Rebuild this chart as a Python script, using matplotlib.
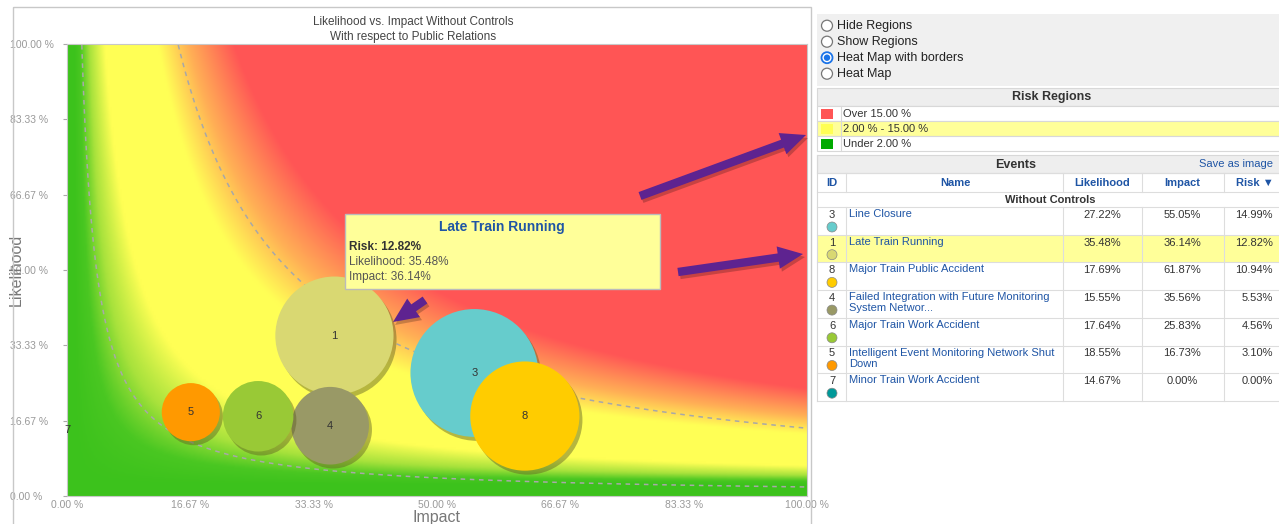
import textwrap
import numpy as np
import matplotlib
matplotlib.use("Agg")
import matplotlib.pyplot as plt
import matplotlib.transforms as mtransforms
from matplotlib.patches import Rectangle, Circle, FancyArrowPatch
from matplotlib.colors import LinearSegmentedColormap

plt.rcParams['font.family'] = ['Liberation Sans', 'DejaVu Sans']

# events, in the order of the table (risk descending)
ids = [3, 1, 8, 4, 6, 5, 7]
names = ["Line Closure", "Late Train Running", "Major Train Public Accident",
         "Failed Integration with Future Monitoring System Networ...",
         "Major Train Work Accident",
         "Intelligent Event Monitoring Network Shut Down",
         "Minor Train Work Accident"]
likelihood = [27.22, 35.48, 17.69, 15.55, 17.64, 18.55, 14.67]
impact = [55.05, 36.14, 61.87, 35.56, 25.83, 16.73, 0.00]
risk = [14.99, 12.82, 10.94, 5.53, 4.56, 3.10, 0.00]
colors = ["#66CCCC", "#D9D872", "#FFCC00", "#999966", "#99C936", "#FF9900", "#009999"]
hover = 1  # Late Train Running

# risk regions
low_limit = 2.0
high_limit = 15.0
region_labels = ["Over 15.00 %", "2.00 % - 15.00 %", "Under 2.00 %"]
region_colors = ["#FF5555", "#FFFF55", "#00AA00"]

# heat map colour stops (risk %, colour)
heat_stops = [(0.0, "#3CC21C"), (0.8, "#4AC722"), (2.0, "#A8E23C"), (4.0, "#FFFF55"),
              (11.0, "#FFFF55"), (15.0, "#FFAF55"), (21.0, "#FF5555"), (100.0, "#FF5555")]

ticks = [0, 16.67, 33.33, 50, 66.67, 83.33, 100]
tick_labels = ["0.00 %", "16.67 %", "33.33 %", "50.00 %", "66.67 %", "83.33 %", "100.00 %"]
radio_options = ["Hide Regions", "Show Regions", "Heat Map with borders", "Heat Map"]
selected_option = 2

W, H = 1279, 524
fig = plt.figure(figsize=(W / 100, H / 100), dpi=100)
ax = fig.add_axes([67 / W, 28 / H, 740 / W, 452 / H])

# heat map: risk sampled at the low corner of each cell
nx, ny = 370, 226
gx = (np.arange(nx) + 0.5) / nx * 100
gy = (np.arange(ny) + 0.5) / ny * 100
X, Y = np.meshgrid(gx, gy)
R = X * Y / 100
Rs = np.maximum(X - 1.0, 0) * np.maximum(Y - 2.6, 0) / 100
heat_cmap = LinearSegmentedColormap.from_list(
    "heat", [(v / 100, c) for v, c in heat_stops], N=4096)
ax.imshow(Rs, extent=[0, 100, 0, 100], origin='lower', cmap=heat_cmap, vmin=0, vmax=100,
          aspect='auto', interpolation='bilinear', zorder=0)
ax.contour(X, Y, R, levels=[low_limit, high_limit], colors='#A8A8A8',
           linestyles=[(0, (3, 3))], linewidths=1.1, zorder=1)

# bubbles, area ~ risk
k = 565
shadow = mtransforms.offset_copy(ax.transData, fig=fig, x=3, y=-4, units='dots')
for i in range(len(ids)):
    s = k * risk[i]
    ax.scatter(impact[i], likelihood[i], s=s, color='#5E5E22', alpha=0.45,
               transform=shadow, zorder=3 + 2 * i, edgecolors='none')
    ax.scatter(impact[i], likelihood[i], s=s, color=colors[i], zorder=4 + 2 * i,
               edgecolors='none')
    ax.text(impact[i], likelihood[i], str(ids[i]), ha='center', va='center',
            fontsize=8, color='#333333', zorder=30, clip_on=False)

ax.set_xlim(0, 100)
ax.set_ylim(0, 100)
ax.set_xticks(ticks)
ax.set_xticklabels(tick_labels)
ax.set_yticks(ticks)
ax.set_yticklabels(tick_labels)
ax.tick_params(axis='x', length=0, pad=3, labelsize=7.5, labelcolor='#999999')
ax.tick_params(axis='y', length=3, pad=38, labelsize=7.5, labelcolor='#999999',
               color='#AAAAAA')
for lab in ax.get_yticklabels():
    lab.set_ha('left')
for sp in ax.spines.values():
    sp.set_color('#C8C8C8')
    sp.set_linewidth(0.8)
ax.set_xlabel("Impact", fontsize=11.5, color='#777777', labelpad=0)
ax.set_ylabel("Likelihood", fontsize=11.5, color='#777777')
ax.yaxis.set_label_coords(-43 / 740, 0.5)

# overlay in pixel coords
ui = fig.add_axes([0, 0, 1, 1], zorder=5)
ui.set_xlim(0, W)
ui.set_ylim(H, 0)
ui.axis('off')

ui.add_patch(Rectangle((13, 7), 798, 530, fill=False, ec='#C8C8C8', lw=1))
ui.text(413, 22, "Likelihood vs. Impact Without Controls", ha='center', va='center',
        fontsize=8.5, color='#444444')
ui.text(413, 37, "With respect to Public Relations", ha='center', va='center',
        fontsize=8.5, color='#444444')

# tooltip
ui.add_patch(Rectangle((345, 214), 315, 75, fc='#FFFF99', ec='#BBBBBB', lw=1, zorder=8))
ui.text(502, 227, names[hover], ha='center', va='center', fontsize=10,
        fontweight='bold', color='#1F55A5', zorder=9)
ui.text(349, 247, "Risk: %.2f%%" % risk[hover], va='center', fontsize=8.5,
        fontweight='bold', color='#333333', zorder=9)
ui.text(349, 262, "Likelihood: %.2f%%" % likelihood[hover], va='center', fontsize=8.5,
        color='#555555', zorder=9)
ui.text(349, 277, "Impact: %.2f%%" % impact[hover], va='center', fontsize=8.5,
        color='#555555', zorder=9)


def arrow(x0, y0, x1, y1):
    for dx, dy, c, a in [(2, 3, '#000000', 0.22), (0, 0, '#5E2390', 1)]:
        ui.add_patch(FancyArrowPatch(
            (x0 + dx, y0 + dy), (x1 + dx, y1 + dy),
            arrowstyle='simple,head_length=1.5,head_width=1.35,tail_width=0.5',
            mutation_scale=12, color=c, alpha=a, lw=0, shrinkA=0, shrinkB=0, zorder=10))


arrow(640, 196, 806, 135)
arrow(678, 272, 803, 254)
arrow(425, 300, 393, 322)

# radio panel
ui.add_patch(Rectangle((817, 14), 470, 72, fc='#F0F0F0', ec='none'))
for i, opt in enumerate(radio_options):
    cy = 25.7 + 16 * i
    if i == selected_option:
        ui.add_patch(Circle((827, cy), 5.5, fc='white', ec='#1A73E8', lw=1.3))
        ui.add_patch(Circle((827, cy), 3.2, fc='#1A73E8', ec='none'))
    else:
        ui.add_patch(Circle((827, cy), 5.5, fc='white', ec='#767676', lw=0.9))
    ui.text(837, cy, opt, va='center', fontsize=9, color='#222222')

# risk regions box
ui.add_patch(Rectangle((817, 88), 470, 18, fc='#EEEEEE', ec='#D8D8D8', lw=0.8))
ui.text(1052, 97, "Risk Regions", ha='center', va='center', fontsize=9,
        fontweight='bold', color='#333333')
for i, (lab, c) in enumerate(zip(region_labels, region_colors)):
    top = 106 + 15 * i
    ui.add_patch(Rectangle((817, top), 470, 15, fc='#FFFF99' if i == 1 else 'white',
                           ec='#D8D8D8', lw=0.8))
    ui.add_patch(Rectangle((820.5, top + 2.5), 12.5, 10, fc=c, ec='none'))
    ui.text(843, top + 7.8, lab, va='center', fontsize=8, color='#333333')
ui.plot([841, 841], [106, 151], color='#D8D8D8', lw=0.8)

# events table
ui.add_patch(Rectangle((817, 155), 470, 18, fc='#EEEEEE', ec='#D8D8D8', lw=0.8))
ui.text(1016, 164.5, "Events", ha='center', va='center', fontsize=9,
        fontweight='bold', color='#333333')
ui.text(1273, 164, "Save as image", ha='right', va='center', fontsize=8,
        color='#1F55A5')
col_lines = [846, 1063, 1142, 1224]
headers = [(832, "ID"), (955, "Name"), (1102, "Likelihood"), (1182, "Impact"), (1255, "Risk \u25BC")]
for x, h in headers:
    ui.text(x, 183, h, ha='center', va='center', fontsize=8, fontweight='bold',
            color='#1F55A5')
ui.text(1050, 200, "Without Controls", ha='center', va='center', fontsize=8,
        fontweight='bold', color='#333333')
row_h = 27.7
tops = [207 + row_h * i for i in range(len(ids))]
for i in range(len(ids)):
    top = tops[i]
    if i == hover:
        ui.add_patch(Rectangle((817, top), 470, row_h, fc='#FFFF99', ec='none'))
    ui.text(832, top + 8, str(ids[i]), ha='center', va='center', fontsize=8,
            color='#333333')
    ui.add_patch(Circle((832, top + 20), 5, fc=colors[i], ec='#888888', lw=0.5))
    ui.text(849, top + 2, textwrap.fill(names[i], 41), ha='left', va='top', fontsize=8,
            color='#1F55A5', linespacing=1.15)
    ui.text(1102, top + 8, "%.2f%%" % likelihood[i], ha='center', va='center',
            fontsize=8, color='#333333')
    ui.text(1182, top + 8, "%.2f%%" % impact[i], ha='center', va='center',
            fontsize=8, color='#333333')
    ui.text(1273, top + 8, "%.2f%%" % risk[i], ha='right', va='center',
            fontsize=8, color='#333333')
for y in [173, 192, 207] + [t + row_h for t in tops]:
    ui.plot([817, 1279], [y, y], color='#DDDDDD', lw=0.8)
for x in col_lines:
    ui.plot([x, x], [173, 192], color='#DDDDDD', lw=0.8)
    ui.plot([x, x], [207, tops[-1] + row_h], color='#DDDDDD', lw=0.8)
ui.plot([817, 817], [155, tops[-1] + row_h], color='#D8D8D8', lw=0.8)

fig.savefig("out.png", dpi=100)
